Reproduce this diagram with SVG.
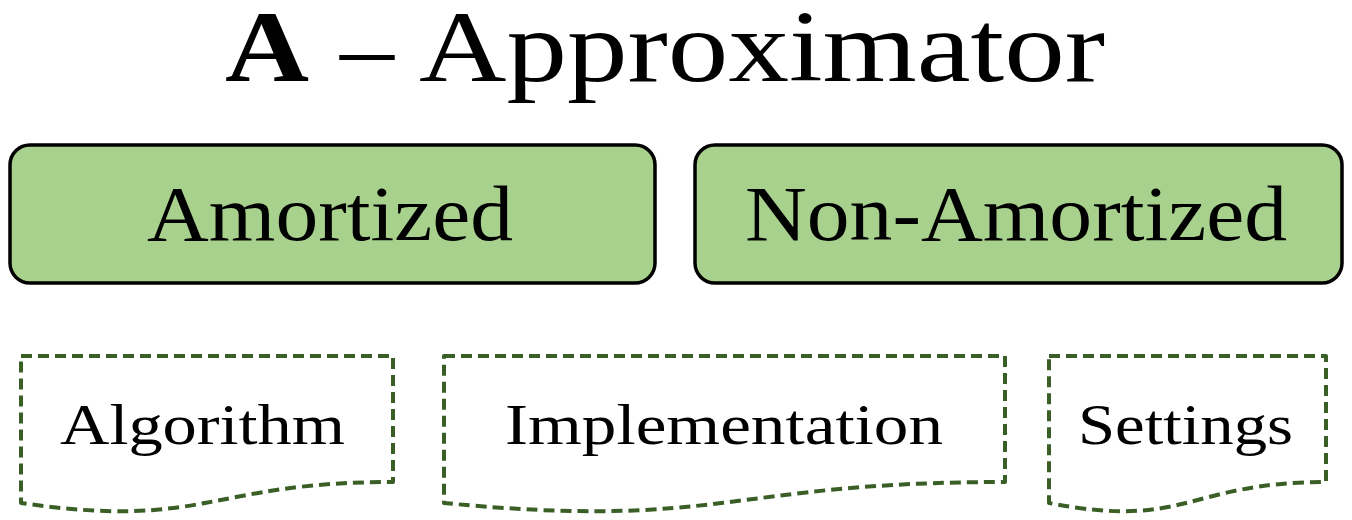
<svg xmlns="http://www.w3.org/2000/svg" width="1352" height="520" viewBox="0 0 1352 520">
<style>
.t{font-family:"Liberation Serif","Times New Roman",serif;fill:#000}
.box{fill:#A9D18E;stroke:#000;stroke-width:3.5}
.doc{fill:#fff;stroke:#3A5F26;stroke-width:4;stroke-dasharray:11 6;stroke-linejoin:round}
</style>
<rect width="1352" height="520" fill="#fff"/>
<g id="title">
<text class="t" x="225" y="81" font-size="102" font-weight="bold" textLength="84" lengthAdjust="spacingAndGlyphs">A</text>
<text class="t" x="340" y="81" font-size="102" textLength="54" lengthAdjust="spacingAndGlyphs">–</text>
<text class="t" x="419" y="81" font-size="102" textLength="686" lengthAdjust="spacingAndGlyphs">Approximator</text>
</g>
<g id="amortized">
<rect class="box" x="10" y="145" width="645" height="138" rx="20"/>
<text class="t" x="147" y="240" font-size="79" textLength="366" lengthAdjust="spacingAndGlyphs">Amortized</text>
</g>
<g id="non-amortized">
<rect class="box" x="695" y="145" width="647" height="138" rx="20"/>
<text class="t" x="745" y="240" font-size="79" textLength="542" lengthAdjust="spacingAndGlyphs">Non-Amortized</text>
</g>
<g id="algorithm">
<path class="doc" d="M21,356 H393 V482 C207,482 207,530 21,503 Z"/>
<text class="t" x="60" y="444" font-size="58" textLength="285" lengthAdjust="spacingAndGlyphs">Algorithm</text>
</g>
<g id="implementation">
<path class="doc" d="M444,356 H1005 V482 C724.5,482 724.5,530 444,503 Z"/>
<text class="t" x="505" y="444" font-size="58" textLength="438" lengthAdjust="spacingAndGlyphs">Implementation</text>
</g>
<g id="settings">
<path class="doc" d="M1049,356 H1326 V482 C1187.5,482 1187.5,530 1049,503 Z"/>
<text class="t" x="1078" y="444" font-size="58" textLength="215" lengthAdjust="spacingAndGlyphs">Settings</text>
</g>
<g id="connectors"></g>
</svg>
